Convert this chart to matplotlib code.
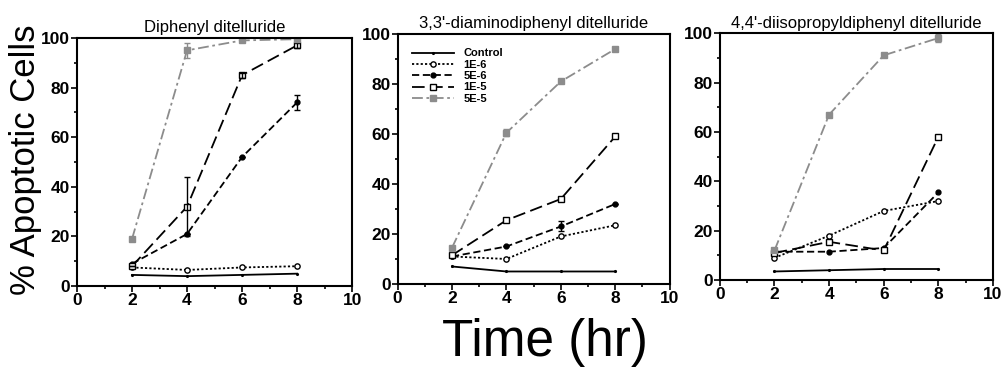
import matplotlib
matplotlib.use("Agg")
import matplotlib.pyplot as plt
from matplotlib.ticker import MultipleLocator

plt.rcParams['font.family'] = ['Liberation Sans', 'DejaVu Sans']

time = [2, 4, 6, 8]
series = ["Control", "1E-6", "5E-6", "1E-5", "5E-5"]
titles = ["Diphenyl ditelluride", "3,3'-diaminodiphenyl ditelluride",
          "4,4'-diisopropyldiphenyl ditelluride"]

p1_control = [4.5, 4, 4.5, 5]
p1_1e6 = [7.5, 6.5, 7.5, 8]
p1_5e6 = [9, 21, 52, 74]
p1_1e5 = [8, 32, 85, 97]
p1_5e5 = [19, 95, 99, 99.5]
p1_err_5e6 = [0, 0, 0, 3]
p1_err_1e5 = [0, 12, 1, 1]
p1_err_5e5 = [0, 3, 0, 0]

p2_control = [7, 5, 5, 5]
p2_1e6 = [11, 10, 19, 23.5]
p2_5e6 = [11, 15, 23, 32]
p2_1e5 = [11.5, 25.5, 34, 59]
p2_5e5 = [14.5, 60.5, 81, 94]
p2_err_5e6 = [0, 0, 2, 0]
p2_err_1e5 = [0, 0, 0, 0]
p2_err_5e5 = [0, 1.5, 0, 0]

p3_control = [3.5, 4, 4.5, 4.5]
p3_1e6 = [9, 18, 28, 32]
p3_5e6 = [11.5, 11.5, 13, 35.5]
p3_1e5 = [11, 15.5, 12, 58]
p3_5e5 = [12, 67, 91, 98]
p3_err_5e6 = [0, 0, 0, 0]
p3_err_1e5 = [0, 0, 0, 0]
p3_err_5e5 = [0, 0, 0, 1.5]

panels = [
    (p1_control, p1_1e6, p1_5e6, p1_1e5, p1_5e5, p1_err_5e6, p1_err_1e5, p1_err_5e5),
    (p2_control, p2_1e6, p2_5e6, p2_1e5, p2_5e5, p2_err_5e6, p2_err_1e5, p2_err_5e5),
    (p3_control, p3_1e6, p3_5e6, p3_1e5, p3_5e5, p3_err_5e6, p3_err_1e5, p3_err_5e5),
]

positions = [
    [0.0767, 0.231, 0.274, 0.667],
    [0.396, 0.2366, 0.271, 0.672],
    [0.717, 0.247, 0.272, 0.664],
]

fig = plt.figure(figsize=(10.04, 3.72), dpi=100)

styles = [
    dict(color='black', linestyle='-', marker='.', markersize=2.5, lw=1.3),
    dict(color='black', linestyle=(0, (1.2, 1.2)), marker='o', markersize=3.8,
         markerfacecolor='white', lw=1.3),
    dict(color='black', linestyle=(0, (4, 2)), marker='o', markersize=3.5,
         markerfacecolor='black', lw=1.3),
    dict(color='black', linestyle=(0, (7, 3)), marker='s', markersize=4.2,
         markerfacecolor='white', lw=1.3),
    dict(color='#8c8c8c', linestyle=(0, (6, 2, 1.5, 2)), marker='s', markersize=4.2,
         markerfacecolor='#8c8c8c', markeredgecolor='#8c8c8c', lw=1.3),
]

for i, (pos, data, title) in enumerate(zip(positions, panels, titles)):
    ax = fig.add_axes(pos)
    ctrl, s1, s2, s3, s4, e2, e3, e4 = data
    vals = [ctrl, s1, s2, s3, s4]
    errs = [None, None, e2, e3, e4]
    for name, v, err, st in zip(series, vals, errs, styles):
        ax.plot(time, v, label=name, **st)
        if err is not None and any(err):
            ax.errorbar(time, v, yerr=err, fmt='none', ecolor=st['color'],
                        elinewidth=1, capsize=2)
    ax.set_xlim(0, 10)
    ax.set_ylim(0, 100)
    ax.xaxis.set_major_locator(MultipleLocator(2))
    ax.xaxis.set_minor_locator(MultipleLocator(1))
    ax.yaxis.set_major_locator(MultipleLocator(20))
    ax.yaxis.set_minor_locator(MultipleLocator(10))
    ax.tick_params(which='both', direction='out', width=1.2, labelsize=12.5, pad=1)
    ax.tick_params(which='major', length=4)
    ax.tick_params(which='minor', length=2.5)
    for lab in ax.get_xticklabels() + ax.get_yticklabels():
        lab.set_fontweight('bold')
    for sp in ax.spines.values():
        sp.set_linewidth(1.5)
    ax.set_title(title, fontsize=12, pad=4)
    if i == 1:
        ax.legend(loc='upper left', frameon=False,
                  handlelength=3.8, labelspacing=0.12, borderaxespad=0.9,
                  prop={'weight': 'bold', 'size': 8})

fig.text(0.025, 0.57, "% Apoptotic Cells", rotation=90, fontsize=25,
         ha='center', va='center')
fig.text(0.543, 0.08, "Time (hr)", fontsize=37, ha='center', va='center')

fig.savefig("out.png", dpi=100)
